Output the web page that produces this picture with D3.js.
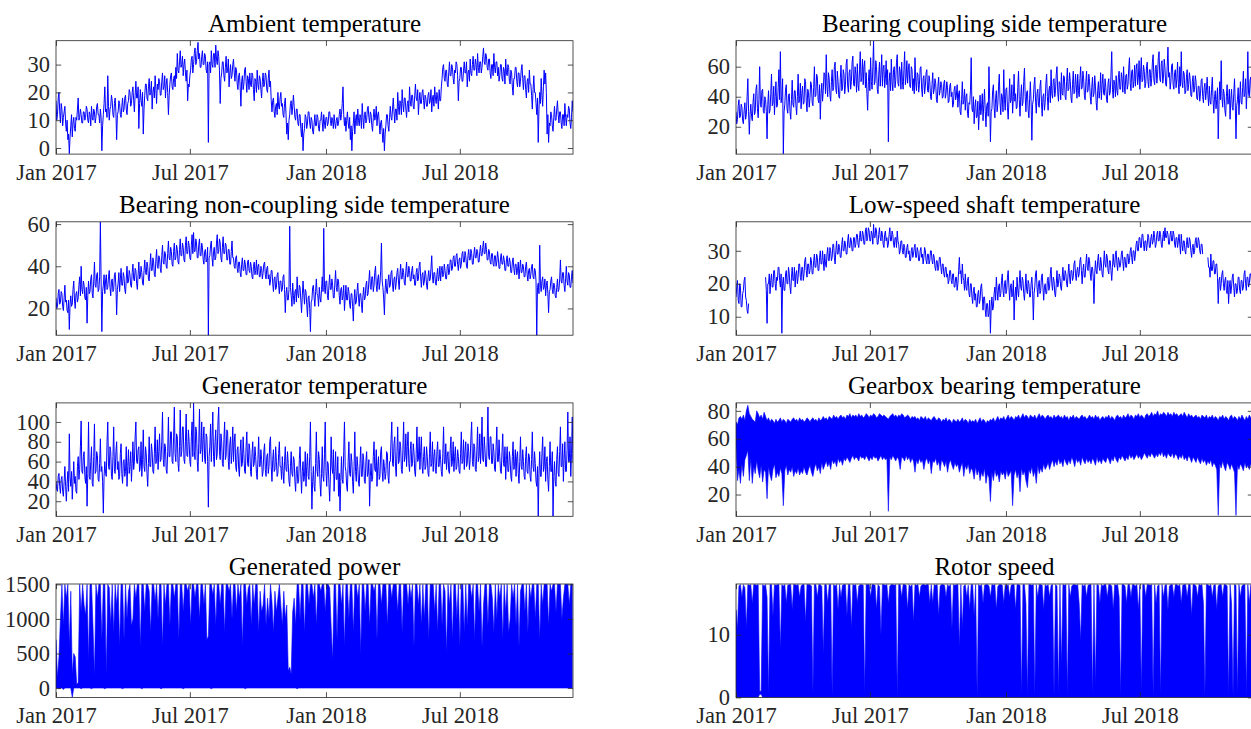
<!DOCTYPE html>
<html><head><meta charset="utf-8">
<script src="https://cdn.jsdelivr.net/npm/d3@7"></script>
<style>body{margin:0;background:#fff}svg{display:block}</style>
</head><body><svg id="c" width="1251" height="729"></svg>
<script>
// daily samples starting 1 Jan 2017
const ambient=[17,10,12,18,20,13,9,16,14,8,11,13,15,9,6,10,3,5,-2,4,
8,12,4,9,11,7,6,11,10,14,18,10,11,14,12,9,9,13,13,10,11,15,
14,10,9,13,12,8,15,11,10,14,13,9,11,15,16,12,12,9,14,11,
-1,8,12,16,22,13,14,11,26,15,10,14,15,19,17,12,11,16,18,13,
3,12,13,17,16,12,11,15,18,13,14,18,19,14,12,16,17,21,20,15,
16,20,22,17,13,19,24,18,18,22,7,16,21,17,15,20,5,14,19,23,
23,18,17,22,25,19,20,24,14,20,22,18,26,21,16,23,21,25,24,19,
19,24,27,21,22,26,18,23,25,20,12,19,23,26,27,22,21,25,26,22,
29,25,34,28,27,31,35,29,30,33,26,30,32,27,24,28,17,23,22,26,
28,32,33,27,30,34,36,30,31,35,38,32,34,29,29,33,35,30,30,34,
33,28,27,31,2,30,31,27,35,30,29,34,34,29,37,32,30,35,33,28,
16,25,27,31,31,26,24,29,33,27,28,32,22,27,30,25,26,30,32,27,
24,29,28,23,21,26,27,22,15,24,26,21,23,28,29,24,20,26,25,21,
27,23,22,27,26,21,17,25,24,20,28,23,21,26,25,21,18,24,27,22,
23,27,26,21,20,25,28,22,24,17,13,17,18,13,11,15,16,12,20,15,
14,18,20,15,16,12,11,16,18,12,5,9,3,10,12,16,17,12,15,19,
15,11,10,14,14,9,8,12,12,7,4,9,-1,5,7,12,11,7,9,13,
13,9,7,11,10,6,5,9,12,8,8,12,11,7,6,10,10,13,9,6,
12,9,7,11,11,8,9,13,13,10,8,11,10,7,12,9,7,10,11,8,
9,12,14,10,12,16,22,12,8,11,6,10,13,9,7,11,3,8,-1,6,
9,13,5,10,12,8,14,10,8,12,11,7,16,11,7,12,13,9,10,14,
15,11,9,13,12,8,6,11,14,10,11,15,8,12,13,9,5,9,10,6,
2,7,-1,5,8,12,12,8,6,11,15,11,10,14,18,13,9,14,14,10,
20,15,12,17,16,12,21,16,13,18,18,14,11,16,17,13,22,17,15,19,
19,15,14,19,23,18,17,21,12,17,20,16,16,20,21,17,14,19,18,15,
15,19,20,16,17,21,13,18,19,15,22,18,16,20,18,14,21,17,17,22,
25,29,30,25,24,28,28,23,22,27,31,26,26,30,29,25,23,28,27,31,
30,26,17,24,25,29,29,24,24,28,31,27,27,31,22,27,28,24,32,27,
26,30,33,28,28,32,30,26,34,29,27,31,31,27,29,33,36,31,30,34,
33,29,28,32,32,27,25,30,30,26,34,29,27,31,31,26,29,24,26,30,
30,25,24,29,28,23,32,27,26,30,29,24,23,28,27,22,19,25,25,29,
29,24,22,27,27,22,24,28,30,25,21,26,26,21,18,24,25,20,28,23,
23,19,14,21,26,20,20,16,12,18,2,14,20,16,25,19,15,22,28,23,
27,20,5,12,2,9,
8,13,12,8,6,11,15,10,10,14,17,12,9,13,13,9,7,12,12,8,16,11,8,12,11,15,14,9,7,11,17,13];

const bearingCoupling=[30,22,25,34,38,26,27,35,33,24,22,31,36,25,28,40,52,30,15,28,
35,27,24,36,42,28,30,45,48,32,26,38,60,35,33,44,45,30,29,40,
38,30,12,35,44,29,31,42,55,34,36,47,28,40,50,33,34,46,58,38,
70,36,40,52,2,30,35,45,48,32,29,41,42,30,25,38,51,35,33,44,
44,34,28,40,55,36,38,49,32,42,47,35,36,52,50,37,30,45,43,33,
39,50,48,36,34,46,60,40,41,55,53,38,36,48,25,42,49,37,44,56,
55,42,68,47,40,56,52,41,37,50,58,44,46,60,63,45,42,57,50,40,
39,52,61,44,45,58,55,42,48,62,65,47,43,56,58,45,50,63,67,48,
47,60,55,43,62,48,44,58,70,50,52,65,48,60,64,46,56,42,31,50,
58,44,66,50,45,60,77,48,50,64,60,45,42,55,63,47,55,68,47,59,
61,46,52,64,48,58,10,50,56,44,65,50,44,58,60,46,51,63,68,49,
47,60,57,45,63,50,45,58,70,48,53,64,49,58,62,47,46,60,58,44,
52,42,66,50,44,56,55,43,48,59,60,45,40,52,54,42,47,56,58,44,
43,54,50,40,38,48,56,42,45,52,49,38,36,47,53,41,44,50,48,39,
40,49,51,39,42,50,46,36,37,47,49,40,43,33,35,45,47,38,41,48,
33,42,44,30,28,38,50,35,37,45,31,40,42,29,26,36,35,44,66,32,
30,40,22,33,38,26,27,37,18,30,41,28,33,42,24,35,45,30,20,34,
36,27,60,38,10,30,32,44,48,33,26,39,44,30,35,47,55,36,28,42,
40,30,58,38,31,45,46,33,25,37,52,36,38,48,29,40,55,37,42,32,
33,46,57,38,27,40,48,34,36,50,59,40,30,43,44,31,26,39,50,36,
11,35,38,48,53,37,29,42,45,34,33,47,51,36,27,40,42,31,36,49,
55,40,31,44,47,36,58,42,39,51,52,40,44,55,60,43,37,50,49,38,
56,42,41,54,53,40,38,50,59,44,45,56,50,39,36,48,57,42,43,55,
48,39,55,44,40,52,60,45,46,57,52,41,38,50,57,43,44,55,50,40,
35,46,53,40,42,54,47,36,31,44,50,39,44,56,38,48,55,42,41,52,
46,38,36,49,52,41,43,55,70,45,39,51,48,40,54,44,41,53,57,45,
45,56,52,43,60,47,42,54,55,45,48,59,66,49,44,57,58,46,50,61,
47,58,62,48,53,64,45,55,66,50,51,61,57,46,49,60,63,50,46,58,
58,47,52,63,68,51,48,59,61,49,55,66,70,52,50,62,64,49,53,65,
59,48,47,60,73,53,56,45,50,61,62,48,45,56,58,46,52,63,49,42,
60,47,70,50,46,57,55,42,43,53,58,44,48,56,52,41,40,50,54,43,
45,54,50,39,38,47,47,37,42,51,52,40,36,46,49,38,44,53,41,34,
47,37,35,45,53,38,29,40,44,32,38,46,12,35,50,38,64,40,33,45,
42,31,27,40,48,35,36,45,25,38,45,33,31,42,52,36,12,34,38,46,
28,39,50,36,35,46,57,40,42,52,32,44,70,42,40,51,53,38,37,48];

const bearingNonCoupling=[25,20,21,27,29,22,23,28,27,21,19,25,31,23,24,19,18,24,10,22,
26,21,22,29,33,24,20,27,28,23,25,31,35,26,40,29,27,33,31,25,
24,30,13,26,33,27,28,34,36,27,25,33,42,31,30,36,37,28,29,35,
61,33,9,28,31,36,27,33,36,29,30,35,38,30,26,33,34,28,29,36,
37,30,17,29,32,37,28,34,39,31,31,37,35,29,27,34,40,32,33,38,
36,31,30,37,41,34,33,39,38,32,29,36,42,34,35,40,37,32,31,38,
43,37,36,42,40,34,33,40,46,38,38,44,42,36,35,43,48,40,39,45,
44,39,37,45,50,42,41,47,46,40,39,46,52,44,43,49,47,41,40,47,
51,43,44,50,48,42,41,48,53,45,45,51,49,43,42,50,54,46,46,52,
50,44,43,50,55,46,56,47,47,53,51,44,44,50,53,45,45,51,49,43,
41,47,48,42,43,49,7,44,45,50,52,44,40,47,49,43,44,51,55,46,
47,53,51,44,42,49,54,46,46,51,50,43,43,48,48,41,41,47,52,44,
44,40,39,44,45,39,37,42,42,37,35,41,44,38,38,43,41,36,36,42,
43,38,37,42,40,35,34,40,42,36,38,43,36,40,41,35,35,40,39,34,
37,41,42,36,34,39,40,34,36,31,33,38,38,32,28,34,35,29,30,36,
37,31,27,33,33,28,29,35,36,29,18,27,30,24,24,29,59,30,26,21,
32,26,22,28,29,23,35,27,25,31,30,24,18,26,33,27,22,29,28,22,
16,25,26,20,9,23,24,30,31,25,21,28,34,27,26,21,30,25,23,29,
35,28,58,30,27,33,33,26,24,31,36,29,29,34,31,25,25,32,38,30,
28,34,33,26,22,29,30,24,26,31,19,25,31,24,24,30,28,22,20,27,
27,21,14,24,29,22,23,28,32,25,21,27,27,22,18,26,30,24,25,31,
33,26,27,33,38,30,29,35,35,28,31,37,40,31,28,34,36,29,32,38,
51,33,30,25,17,29,34,28,27,33,36,30,31,37,38,31,28,34,35,29,
32,37,39,33,29,36,41,34,34,39,37,32,31,38,42,35,35,40,38,33,
33,38,40,34,36,31,31,37,39,33,34,40,42,35,30,36,37,31,33,38,
36,31,29,35,38,33,34,39,45,35,32,37,37,32,31,36,39,33,35,40,
33,38,40,35,36,41,38,34,34,40,41,36,37,43,43,38,39,44,45,40,
40,45,46,41,38,43,44,39,41,46,47,42,42,47,45,40,39,45,48,43,
43,48,46,41,41,46,49,44,44,48,47,42,42,47,50,45,45,49,52,46,
46,51,48,43,43,48,47,42,41,46,46,41,40,45,45,40,42,47,44,39,
39,44,46,41,41,45,43,38,38,43,45,40,40,44,42,37,37,42,44,39,
36,41,41,36,38,42,34,39,43,37,37,41,40,35,35,40,42,36,33,38,
39,34,36,40,41,35,34,39,38,33,7,30,32,27,50,31,28,33,35,29,
30,34,26,31,33,27,18,28,29,33,35,29,27,32,31,26,25,30,34,28,
29,34,43,33,32,37,37,31,28,34,40,33,31,37,36,30,30,35,38,32];

const lowSpeedShaft=[16,19,21,15,14,20,19,13,13,17,18,21,22,16,15,12,11,14,
null,null,null,null,null,null,null,null,null,null,null,null,null,null,null,null,null,null,null,null,null,null,
22,18,8,20,20,23,17,21,23,19,19,24,24,20,18,22,21,25,25,21,
19,23,5,20,22,18,18,23,24,20,20,25,23,19,17,22,25,21,21,25,
19,23,24,20,22,26,26,22,21,25,25,21,23,27,28,24,22,26,26,23,
24,28,27,23,23,27,29,25,25,29,28,24,24,28,30,26,26,30,27,24,
29,26,25,29,31,27,27,31,30,27,28,32,32,28,26,30,33,29,29,32,
31,28,28,32,34,30,30,33,32,29,29,33,35,31,31,34,33,30,30,34,
34,31,32,35,35,32,31,34,36,33,33,36,35,32,32,36,37,33,34,37,
36,33,33,36,35,32,38,34,34,37,36,32,32,35,37,34,33,36,35,32,
31,35,36,33,34,31,32,35,37,33,33,36,35,32,31,34,34,31,36,33,
32,29,30,33,33,30,29,32,31,28,28,31,32,29,30,27,27,30,31,28,
29,31,32,28,28,31,30,27,27,30,31,28,29,26,28,31,30,27,26,29,
29,26,27,30,30,27,26,29,28,25,24,27,27,24,25,28,28,25,23,26,
26,23,22,25,25,22,23,20,21,24,24,21,20,23,23,19,19,22,22,18,
20,24,28,23,24,20,26,22,21,18,23,19,18,21,22,17,16,20,20,16,
14,18,19,15,17,13,13,17,18,14,15,19,20,16,12,16,16,12,10,14,
14,10,11,15,5,13,16,12,13,17,19,15,22,18,15,19,20,16,17,21,
23,18,16,20,21,17,18,22,24,19,15,19,20,16,17,21,9,16,19,15,
22,18,16,20,24,19,18,22,21,17,15,19,23,18,17,21,20,16,16,20,
22,18,9,17,19,23,24,19,16,20,21,17,18,22,23,19,15,19,20,17,
17,21,22,18,19,23,25,20,18,22,21,17,16,20,24,19,20,23,22,19,
18,22,25,21,21,24,23,20,19,23,26,22,20,24,24,21,22,26,27,23,
21,24,25,22,23,27,28,24,20,24,26,22,22,26,29,25,24,28,27,23,
21,25,25,22,14,23,27,24,23,27,29,25,24,28,26,23,22,26,30,26,
25,29,28,24,23,27,27,24,21,25,29,26,25,29,30,26,24,28,27,25,
26,29,30,27,24,28,28,25,25,29,29,26,27,30,31,28,26,30,30,27,
29,32,33,30,30,34,34,31,31,35,35,32,30,33,33,30,32,35,34,31,
31,34,35,32,33,36,34,31,32,35,36,33,33,36,35,32,31,34,36,33,
37,34,34,36,35,32,32,35,36,33,33,36,35,32,31,34,34,31,33,35,
32,29,35,32,30,33,33,30,29,32,34,31,31,34,33,30,28,31,32,29,
30,33,34,31,31,34,33,30,29,32,32,29,null,null,null,null,null,null,28,25,
25,22,29,24,24,27,27,23,23,26,26,22,14,21,22,18,20,23,24,20,
18,21,22,18,17,21,14,19,21,17,19,22,23,19,16,20,20,17,18,22,
22,18,17,21,21,18,19,23,24,20,18,22,22,19,20,23,23,20,21,24];

const generator=[40,32,30,45,48,35,28,42,45,30,25,40,55,35,20,38,50,30,88,45,
35,50,22,40,60,38,45,30,28,55,65,42,52,75,101,50,48,65,70,45,
38,55,15,48,100,45,42,60,75,38,35,65,98,48,50,70,66,42,40,58,
83,50,55,40,8,45,60,48,45,80,100,55,52,75,70,45,42,65,95,50,
48,70,80,52,60,42,45,68,78,48,38,60,62,45,50,75,35,55,72,48,
55,70,40,58,80,52,60,85,100,60,58,72,75,50,55,80,45,62,92,55,
50,75,68,48,35,58,85,55,55,78,70,50,48,68,95,58,60,82,52,70,
88,60,62,80,110,62,55,78,75,52,48,70,105,65,65,90,90,60,58,85,
115,68,60,88,85,58,50,75,112,65,70,95,95,62,58,80,108,66,65,92,
80,60,55,85,100,65,119,70,62,95,90,60,50,78,113,68,72,100,60,82,
95,62,58,88,85,60,14,65,75,98,60,85,110,65,55,80,92,62,68,100,
115,70,62,88,80,58,55,82,100,62,66,92,90,60,52,78,85,58,70,95,
60,80,88,55,50,72,75,52,45,70,82,55,58,85,68,50,48,75,90,58,
55,78,72,50,45,68,80,55,58,75,65,48,42,62,85,55,55,72,62,45,
50,70,78,52,45,65,68,48,55,80,85,55,40,62,72,50,52,75,60,45,
48,68,80,55,55,42,65,50,38,60,75,52,50,70,58,40,35,55,70,48,
45,65,62,40,30,52,55,38,40,62,75,48,28,50,60,40,45,70,35,55,
68,45,42,65,100,50,12,40,55,35,30,58,90,50,45,70,62,38,25,48,
75,45,40,68,100,50,35,60,58,38,20,45,85,55,48,72,30,50,70,42,
42,65,25,48,10,40,65,42,38,70,100,55,50,35,30,60,80,48,45,68,
60,40,28,55,90,50,40,65,55,38,35,58,75,45,45,68,62,40,38,60,
70,45,48,62,15,45,58,40,42,65,80,52,50,72,35,55,65,42,45,70,
75,50,40,62,55,42,48,70,68,45,38,60,60,82,100,58,55,78,85,55,
45,70,95,58,60,80,75,52,48,72,100,60,65,88,55,75,90,58,50,72,
80,55,58,78,70,50,45,68,95,60,62,85,52,70,85,55,48,65,75,52,
55,75,65,48,45,68,90,55,58,80,50,65,72,50,48,70,80,55,55,72,
62,50,45,68,95,58,58,78,52,65,70,50,48,72,85,55,60,80,50,65,
75,52,55,72,65,50,48,68,90,58,60,82,52,70,80,55,58,78,70,52,
62,85,100,60,55,78,75,52,50,72,95,60,65,88,58,75,105,62,60,85,
72,55,55,80,115,65,62,85,85,58,58,78,70,52,50,75,95,60,60,82,
65,50,48,70,88,58,55,75,42,62,75,50,50,70,62,45,40,65,80,52,
55,72,45,65,70,48,38,60,85,55,52,72,60,45,42,65,75,50,48,68,
65,45,40,62,90,55,50,70,58,40,35,55,5,48,70,45,45,68,85,50,
55,75,40,60,65,42,30,55,80,50,50,70,5,45,60,40,35,62,75,48,
45,70,95,55,55,78,40,62,80,50,50,72,110,60,60,85,45,68,105,60];

// 2-day envelopes (min / max) for the densely oscillating signals
const gearboxMax=[72,70,75,76,74,77,73,80,84,78,76,74,73,72,80,78,75,77,74,79,
76,73,75,72,74,73,71,74,72,73,75,72,74,73,71,74,73,72,74,75,
73,74,72,75,73,74,72,73,75,74,72,74,75,73,74,72,75,73,74,76,
74,75,73,76,75,74,77,75,76,74,76,77,75,76,74,77,76,78,75,77,
76,77,75,78,76,77,75,76,78,77,75,77,76,78,77,75,76,78,77,76,
77,76,75,74,76,77,78,76,77,75,77,76,78,77,75,76,77,76,74,76,
75,76,74,75,73,76,75,74,76,73,75,74,73,75,76,74,73,75,74,72,
74,73,75,72,74,73,71,74,73,72,74,72,73,75,72,74,73,71,74,72,
73,72,74,71,73,75,72,74,73,71,73,72,74,73,75,72,74,76,73,75,
74,76,73,75,77,74,76,75,73,76,75,77,74,76,78,75,77,76,74,77,
76,75,77,74,76,78,75,77,76,74,76,77,75,76,74,77,75,76,77,75,
76,74,77,75,76,73,76,75,77,74,76,75,74,76,77,75,76,74,75,77,
75,76,74,77,75,76,73,75,76,74,76,75,77,74,76,75,73,76,77,75,
76,74,77,75,76,78,75,77,76,74,77,76,78,75,77,76,74,77,78,76,
77,79,76,78,77,80,76,78,77,79,78,76,79,77,78,76,79,77,78,76,
77,78,76,79,77,75,78,76,77,75,76,77,75,76,74,77,76,75,77,74,
76,75,77,74,76,75,73,76,75,77,74,76,75,73,76,77,74,76,75,73,
76,74,77,75,73,76,74,77,75,76];
const gearboxMin=[55,30,38,28,42,33,45,48,52,30,46,28,40,35,44,37,32,41,29,38,
36,17,40,34,30,38,42,32,36,33,39,35,12,37,41,34,38,36,40,33,
37,35,39,34,37,35,40,36,34,38,41,36,33,39,42,37,40,35,43,38,
41,44,40,43,38,45,42,44,40,46,43,45,41,46,44,47,45,43,46,48,
45,47,46,44,48,46,47,45,48,46,44,47,45,48,46,47,44,46,48,45,
47,45,46,8,47,45,48,46,44,47,45,38,47,46,44,48,45,47,43,46,
44,36,45,42,46,43,45,38,44,46,42,45,35,44,43,46,41,44,37,45,
43,40,44,36,42,45,41,38,43,40,42,36,40,43,33,41,38,42,35,39,
37,31,40,34,38,30,36,33,39,28,35,32,15,36,30,38,33,35,29,37,
34,36,31,38,33,35,37,12,34,38,32,36,22,39,34,37,30,25,38,35,
40,33,37,28,41,35,39,36,42,38,40,43,38,42,45,40,44,41,46,42,
44,40,46,43,41,45,42,47,44,40,46,43,45,41,47,44,42,46,43,45,
42,46,44,41,47,43,45,42,46,44,43,47,45,42,46,44,48,45,43,47,
45,48,46,44,47,45,49,46,48,45,47,49,46,48,45,47,50,48,46,49,
47,50,48,46,49,47,50,48,51,47,49,46,50,48,47,50,46,49,48,45,
48,46,49,45,47,44,48,46,43,47,45,43,47,44,42,46,43,45,41,44,
42,45,40,43,41,38,5,42,39,44,40,37,43,41,38,42,39,36,5,41,
38,42,40,37,43,39,41,38,42,40];

const powerMax=[700,150,450,1000,1500,900,1500,1300,1500,600,1400,200,500,450,50,80,1500,1100,1500,1200,
1050,1500,400,1500,1500,900,170,1500,1300,1500,1500,700,1500,1500,200,1500,1450,900,1500,800,
1500,1200,1500,600,1500,1500,700,1500,1000,1400,1500,900,1000,1500,1300,1500,1500,600,1500,1500,
1100,1500,1500,1400,800,1500,1500,1250,1500,1000,1500,1500,600,1500,1200,1500,1500,900,1500,1500,
1300,1500,1500,700,1500,1500,1100,1500,1500,1400,1500,900,1500,1500,1300,1500,1500,1000,1500,1500,
1200,1500,700,750,1500,1500,1350,1500,900,1500,1500,1200,1500,1500,800,1500,1500,1400,1500,1000,
1500,1500,1100,1500,1300,1500,600,1500,1500,1200,1450,1500,900,1500,1200,1500,1500,800,1400,1100,
1200,1500,900,1300,1000,1500,1250,800,1400,1100,1300,1500,1200,900,1400,1000,1200,250,300,200,
1100,1300,900,1500,1500,1000,1500,1500,800,1500,1500,1200,1500,1500,1300,1500,900,1500,1500,1400,
1500,1500,1100,1500,1500,1450,900,400,1500,1500,700,1500,1500,1200,1500,600,1500,1500,1000,1500,
1500,800,1500,1500,1300,1500,500,1500,1500,1100,1500,1500,900,1500,1500,1400,1500,700,1500,1500,
1200,1500,1500,1500,900,1500,1500,1300,1500,1500,1500,1100,1500,1500,800,1500,1500,1500,1200,1500,
1300,1500,600,1500,1500,1200,1500,900,1500,1000,1500,1500,700,1500,1500,1500,1100,1500,800,1500,
1500,900,1500,1400,500,1500,1200,1500,700,1500,1500,1000,1500,600,1500,1500,800,1500,900,1500,
1500,1300,1500,700,1500,1500,1100,1500,600,1200,1500,1500,900,1500,1500,1300,800,1500,1000,1500,
1300,1500,700,1500,1100,1500,800,1000,1500,1300,1500,900,1500,600,1400,1500,1500,1100,1500,800,
1500,1300,1500,1500,1000,1500,1500,700,1500,1200,1500,1500,1500,900,1500,1400,1500,1500,1100,1500,
1500,1500,1000,1300,1500,1500,1500,1200,1500,1500];
const powerMin=[0,0,-10,0,0,-20,0,0,0,0,0,-135,0,0,0,0,0,-10,0,0,
0,0,0,0,-10,0,0,0,0,0,0,0,0,-10,0,0,0,0,0,0,
0,0,0,0,0,-10,0,0,0,0,0,0,0,0,0,0,0,0,-10,0,
0,0,0,0,0,0,0,0,0,0,0,-10,0,0,0,0,0,0,0,0,
0,0,0,0,0,0,-10,0,0,0,0,0,0,0,0,0,0,0,0,0,
0,0,0,0,0,-10,0,0,0,0,0,0,0,0,0,0,0,0,0,0,
0,0,0,0,0,0,0,0,-10,0,0,0,0,0,0,0,0,0,0,0,
0,0,0,0,0,0,0,0,0,0,0,0,0,0,0,0,0,0,0,0,
0,0,0,-10,0,0,0,0,0,0,0,0,0,0,0,0,0,0,0,0,
0,0,0,0,0,0,0,0,0,0,0,0,0,0,0,0,0,0,0,0,
0,0,0,0,0,0,0,0,0,0,0,0,0,0,0,0,0,0,0,0,
0,0,0,0,0,0,0,0,0,0,0,0,0,0,0,0,0,0,0,0,
0,0,0,0,0,0,0,0,0,0,0,0,0,0,0,0,0,0,0,0,
0,0,0,0,0,0,0,0,0,0,0,0,0,0,0,0,0,0,0,0,
0,0,0,0,0,0,0,0,0,0,0,0,0,0,0,0,0,0,0,0,
0,0,0,0,0,0,0,0,0,0,0,0,0,0,0,0,0,0,0,0,
0,0,0,0,0,0,0,0,0,0,0,0,0,0,0,0,0,0,0,0,
0,0,0,0,0,0,0,0,0,0];

const rotorMax=[14,11,17.8,18,16,18,17.5,11,18,17.9,18,15,18,18,17.9,18,1,1,18,17.8,
18,16,0.3,18,18,13,18,17.9,18,18,7.6,18,17.8,18,15,17.9,18,18,14,18,
18,17.9,18,16,17.8,18,18,12,18,18,18,17.8,0.7,18,18,16,18,18,17.7,7,
18,18,15,18,18,0.3,18,17.8,18,14,18,16,17.9,18,18,13,18,18,11,18,
17.9,18,15,17.8,18,18,17.9,0.7,18,18,18,16,18,18,17.9,14,18,17.7,10,18,
18,17.9,18,15,17.8,18,18,17.9,18,0.3,18,18,16,18,18,17.9,14,18,17.7,18,
12,18,17.9,18,16,17.8,18,18,17.9,18,18,15,18,15,18,17.9,18,13,17.8,18,
18,17.9,16,18,17.7,18,11,18,17.9,18,18,8,18,11,17.8,18,16,17.9,14,18,
18,13,18,0.3,18,17.8,18,15,17.9,18,18,17.8,16,18,17.9,18,14,17.7,18,18,
17.9,15,18,17.8,18,16,17.9,18,18,14,18,18,17.9,0.3,18,18,15,0.3,18,18,
17.9,18,0.3,18,16,18,18,17.9,14,18,17.8,18,16,17.9,18,0.3,18,17.8,0.3,18,
5,18,17.9,18,0.3,18,16,17.8,18,18,17.9,18,15,9,18,17.8,18,16,17.9,18,
18,0.3,18,2,18,17.9,15,18,17.8,18,18,16,18,18,17.8,14,18,17.9,18,16,
0.3,18,18,17.8,15,18,18,16,18,18,17.8,18,14,17.9,1,18,18,16,18,18,
17.9,18,0.3,18,15,17.8,18,0.3,18,16,17.9,18,14,17.8,18,18,16,18,18,17.8,
18,15,17.9,18,18,16,18,18,13,18,18,17.8,16,18,17.9,18,15,0.3,18,18,
17.8,18,16,17.9,18,14,17.8,18,18,16,18,18,17.8,0.3,18,15,0.3,18,17.9,0.3,
18,16,17.8,18,18,0.3,18,15,18,18];
const rotorMin=[0,0,0,0,0,0,0,0,0,0,0,0,0,0,0,0,0.5,0.5,0,0,
0,0,0,0,0,0,0,0,0,0,0,0,0,0,0,0,0,0,0,0,
0,0,0,0,0,0,0,0,0,0,0,0,0,0,0,0,0,0,0,0,
0,0,0,0,0,0,0,0,0,0,0,0,0,0,0,0,0,0,0,0,
0,0,0,0,0,0,0,0,0,0,0,0,0,0,0,0,0,0,0,0,
0,0,0,0,0,0,0,0,0,0,0,0,0,0,0,0,0,0,0,0,
0,0,0,0,0,0,0,0,0,0,0,0,0,0,0,0,0,0,0,0,
0,0,0,0,0,0,0,0,0,0,0,0,0,0,0,0,0,0,0,0,
0,0,0,0,0,0,0,0,0,0,0,0,0,0,0,0,0,0,0,0,
0,0,0,0,0,0,0,0,0,0,0,0,0,0,0,0,0,0,0,0,
0,0,0,0,0,0,0,0,0,0,0,0,0,0,0,0,0,0,0,0,
0,0,0,0,0,0,0,0,0,0,0,0,0,0,0,0,0,0,0,0,
0,0,0,0,0,0,0,0,0,0,0,0,0,0,0,0,0,0,0,0,
0,0,0,0,0,0,0,0,0,0,0,0,0,0,0,0,0,0,0,0,
0,0,0,0,0,0,0,0,0,0,0,0,0,0,0,0,0,0,0,0,
0,0,0,0,0,0,0,0,0,0,0,0,0,0,0,0,0,0,0,0,
0,0,0,0,0,0,0,0,0,0,0,0,0,0,0,0,0,0,0,0,
0,0,0,0,0,0,0,0,0,0];

const titles=["Ambient temperature","Bearing coupling side temperature",
"Bearing non-coupling side temperature","Low-speed shaft temperature",
"Generator temperature","Gearbox bearing temperature",
"Generated power","Rotor speed"];
const yLimits=[[-2.2,38.6],[1.8,77.3],[7.3,61.1],[4.4,38.8],[4.8,119.2],[4.4,85.7],[-135,1505],[0,18.1]];
const yTicks=[[0,10,20,30],[20,40,60],[20,40,60],[10,20,30],[20,40,60,80,100],[20,40,60,80],[0,500,1000,1500],[0,10]];
const xTickDates=[Date.UTC(2017,0,1),Date.UTC(2017,6,1),Date.UTC(2018,0,1),Date.UTC(2018,6,1)];
const xTickLabels=["Jan 2017","Jul 2017","Jan 2018","Jul 2018"];
const seriesList=[
 {kind:"line",v:ambient},{kind:"line",v:bearingCoupling},
 {kind:"line",v:bearingNonCoupling},{kind:"line",v:lowSpeedShaft},
 {kind:"line",v:generator},{kind:"band",lo:gearboxMin,hi:gearboxMax},
 {kind:"band",lo:powerMin,hi:powerMax},{kind:"band",lo:rotorMin,hi:rotorMax}
];

const svg=d3.select("#c");
const W=517,H=113.4;
const lefts=[56,736];
const tops=[40.7,221.8,402.9,584];
const font="'Liberation Serif','Times New Roman',Times,serif";
const axisCol="#262626";
const dayAt=(i,step)=>Date.UTC(2017,0,1+step*i);

seriesList.forEach((s,k)=>{
  const c=k%2,r=Math.floor(k/2);
  const g=svg.append("g").attr("transform",`translate(${lefts[c]},${tops[r]})`);
  const x=d3.scaleUtc().domain([Date.UTC(2017,0,1),Date.UTC(2018,11,1)]).range([0,W]);
  const y=d3.scaleLinear().domain(yLimits[k]).range([H,0]);
  g.append("clipPath").attr("id","cp"+k).append("rect").attr("width",W).attr("height",H);
  const plot=g.append("g").attr("clip-path",`url(#cp${k})`);
  if(s.kind==="line"){
    const line=d3.line().defined(d=>d!=null).x((d,i)=>x(dayAt(i,1))).y(d=>y(d));
    plot.append("path").attr("d",line(s.v)).attr("fill","none")
      .attr("stroke","#0000ff").attr("stroke-width",1).attr("stroke-linejoin","round");
  } else {
    const area=d3.area().x((d,i)=>x(dayAt(i,2))).y0((d,i)=>y(s.lo[i])).y1((d,i)=>y(s.hi[i]));
    plot.append("path").attr("d",area(s.hi)).attr("fill","#0000ff")
      .attr("stroke","#0000ff").attr("stroke-width",0.6).attr("stroke-linejoin","round");
  }
  const styleAxis=a=>{a.select(".domain").remove();
    a.selectAll("line").attr("stroke",axisCol).attr("stroke-width",0.8);
    a.selectAll("text").attr("fill",axisCol).style("font-family",font).style("font-size","22.5px");};
  g.append("g").attr("transform",`translate(0,${H})`)
    .call(d3.axisBottom(x).tickValues(xTickDates).tickSize(-5.2).tickPadding(10)
      .tickFormat((d,i)=>xTickLabels[i])).call(styleAxis);
  g.append("g").call(d3.axisTop(x).tickValues(xTickDates).tickSize(-5.2).tickFormat("")).call(styleAxis);
  g.append("g").call(d3.axisLeft(y).tickValues(yTicks[k]).tickSize(-5.2).tickPadding(6)
      .tickFormat(d3.format("d"))).call(styleAxis);
  g.append("g").attr("transform",`translate(${W},0)`)
    .call(d3.axisRight(y).tickValues(yTicks[k]).tickSize(-5.2).tickFormat("")).call(styleAxis);
  g.append("rect").attr("width",W).attr("height",H).attr("fill","none")
    .attr("stroke",axisCol).attr("stroke-width",0.8);
  g.append("text").attr("x",W/2).attr("y",-9).attr("text-anchor","middle")
    .style("font-family",font).style("font-size","25px").attr("fill","#000").text(titles[k]);
});
</script></body></html>
